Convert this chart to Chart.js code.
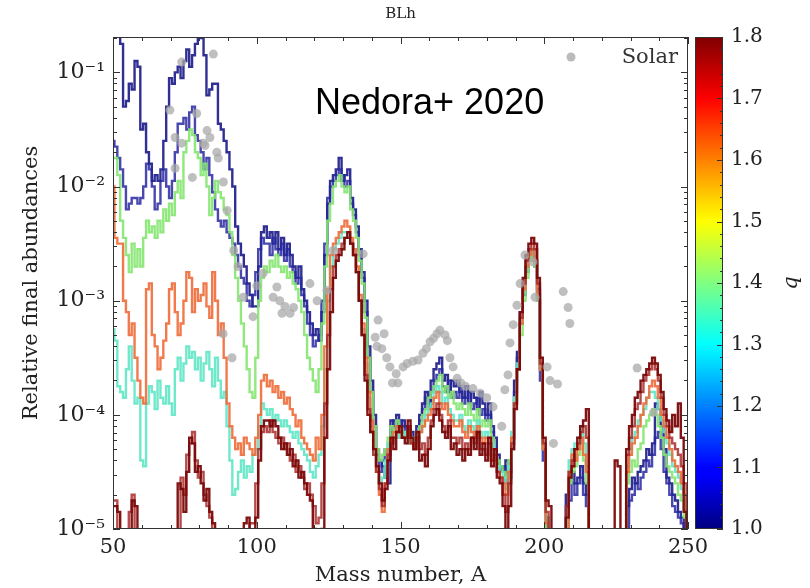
<!DOCTYPE html>
<html>
<head>
<meta charset="utf-8">
<script src="https://cdn.jsdelivr.net/npm/chart.js@4.4.1/dist/chart.umd.min.js"></script>
<style>
  html, body { margin: 0; padding: 0; background: #ffffff; }
  #wrap { width: 810px; height: 588px; position: relative; }
</style>
</head>
<body>
<div id="wrap"><canvas id="c" width="810" height="588"></canvas></div>
<script>
// Mass numbers A = 50 ... 250 (one histogram bin per A)
const massNumbers = Array.from({ length: 201 }, (_, i) => 50 + i);

// Final abundances per mass number, stored as log10(Y); -6 means below the plotted range
const navyHighLog = [
  -0.6,-0.6,-0.65,-0.75,-1.3,-1.25,-1.1,-1.15,-0.9,-0.95,
  -1.5,-1.45,-1.7,-1.8,-1.95,-1.9,-1.95,-1.85,-1.6,-1.3,
  -1.05,-1.1,-1.0,-0.95,-1.05,-0.9,-0.8,-0.95,-0.85,-0.75,
  -0.68,-0.7,-0.85,-1.2,-1.15,-1.1,-1.1,-1.45,-1.5,-1.6,
  -1.7,-1.85,-2.0,-2.35,-2.5,-2.6,-2.7,-2.85,-2.95,-3.05,
  -3.05,-2.7,-2.4,-2.35,-2.45,-2.4,-2.5,-2.4,-2.55,-2.45,
  -2.6,-2.5,-2.6,-2.7,-2.8,-2.7,-2.9,-3.0,-3.1,-3.2,
  -3.3,-3.25,-3.35,-3.1,-2.6,-2.15,-1.95,-1.9,-1.85,-1.75,
  -1.95,-1.9,-1.85,-2.1,-2.2,-2.35,-2.55,-2.75,-3.0,-3.4,
  -3.7,-4.0,-4.3,-4.4,-4.45,-4.55,-4.6,-4.05,-4.1,-4.0,
  -4.15,-4.05,-4.1,-4.2,-4.15,-4.25,-4.1,-4.0,-3.9,-3.8,
  -3.95,-3.7,-3.6,-3.55,-3.5,-3.7,-3.65,-3.8,-3.7,-3.75,
  -3.7,-3.8,-3.85,-3.75,-3.9,-3.8,-3.85,-3.95,-3.8,-3.9,
  -4.0,-3.9,-4.1,-4.2,-4.35,-4.45,-4.5,-4.4,-4.55,-4.2,
  -3.7,-3.45,-3.1,-2.85,-2.7,-2.6,-2.55,-2.65,-2.9,-3.6,
  -4.3,-4.9,-6,-6,-6,-6,-6,-6,-4.7,-4.6,
  -4.5,-4.6,-4.55,-4.45,-4.6,-4.7,-6,-6,-6,-6,
  -6,-6,-6,-6,-6,-6,-6,-6,-6,-4.8,
  -4.65,-4.55,-4.6,-4.5,-4.45,-4.4,-4.3,-4.35,-4.25,-3.9,
  -3.95,-4.1,-4.3,-4.55,-4.6,-4.7,-4.75,-4.85,-4.9,-5.0,
  -6
];
const navyLowLog = [
  -1.6,-1.65,-1.75,-1.85,-2.0,-2.2,-2.15,-2.1,-2.1,-2.15,
  -2.1,-2.0,-1.8,-1.85,-2.0,-2.2,-2.15,-1.95,-1.85,-2.0,
  -2.1,-1.95,-1.7,-1.45,-1.45,-1.4,-1.5,-1.35,-1.3,-1.55,
  -1.6,-1.7,-1.85,-1.75,-1.9,-2.05,-2.2,-2.3,-2.35,-2.3,
  -2.4,-2.45,-2.5,-2.6,-2.7,-2.8,-2.85,-3.0,-3.05,-2.95,
  -2.75,-2.55,-2.45,-2.5,-2.5,-2.6,-2.45,-2.55,-2.6,-2.5,
  -2.65,-2.55,-2.7,-2.75,-2.85,-2.8,-2.95,-3.05,-3.2,-3.3,
  -3.4,-3.35,-3.3,-3.0,-2.5,-2.1,-2.0,-1.95,-1.9,-1.85,
  -1.9,-2.0,-1.95,-2.15,-2.25,-2.4,-2.6,-2.8,-3.1,-3.5,
  -3.8,-4.1,-4.35,-4.5,-4.4,-4.3,-4.35,-4.15,-4.05,-4.1,
  -4.05,-4.1,-4.15,-4.1,-4.2,-4.2,-4.15,-4.05,-3.95,-3.85,
  -3.9,-3.8,-3.7,-3.65,-3.6,-3.75,-3.8,-3.7,-3.85,-3.8,
  -3.85,-3.75,-3.9,-3.85,-3.8,-3.95,-3.9,-3.85,-4.0,-3.95,
  -4.05,-4.0,-4.15,-4.3,-4.4,-4.5,-4.45,-4.6,-4.5,-4.3,
  -3.8,-3.5,-3.2,-2.95,-2.75,-2.65,-2.6,-2.7,-3.0,-3.7,
  -4.4,-5.0,-6,-6,-6,-6,-6,-6,-6,-4.75,
  -4.6,-4.7,-4.6,-4.55,-4.7,-4.8,-6,-6,-6,-6,
  -6,-6,-6,-6,-6,-6,-6,-6,-6,-6,
  -4.75,-4.7,-4.6,-4.65,-4.55,-4.5,-4.4,-4.45,-4.35,-4.2,
  -4.15,-4.3,-4.5,-4.6,-4.7,-4.8,-4.85,-4.9,-4.95,-5.1,
  -6
];
const greenLog = [
  -1.75,-1.75,-1.9,-2.3,-2.45,-2.6,-2.75,-2.5,-2.7,-2.55,
  -2.7,-2.45,-2.3,-2.4,-2.35,-2.45,-2.3,-2.4,-2.2,-2.3,
  -2.15,-2.25,-2.05,-1.95,-2.1,-1.7,-1.6,-1.5,-1.55,-1.7,
  -1.75,-1.9,-1.8,-2.0,-2.25,-2.1,-1.95,-2.05,-2.1,-2.2,
  -2.25,-2.4,-2.6,-2.8,-3.0,-3.2,-3.4,-3.6,-3.8,-3.85,
  -3.5,-3.0,-2.8,-2.7,-2.75,-2.65,-2.7,-2.6,-2.7,-2.75,
  -2.7,-2.8,-2.75,-2.85,-2.9,-3.0,-3.1,-3.3,-3.5,-3.6,
  -3.7,-3.8,-3.6,-3.2,-2.7,-2.3,-2.15,-2.0,-1.95,-1.9,
  -2.0,-2.05,-2.0,-2.2,-2.3,-2.45,-2.65,-2.85,-3.15,-3.5,
  -3.8,-4.1,-4.3,-4.4,-4.35,-4.3,-4.2,-4.1,-4.15,-4.05,
  -4.1,-4.15,-4.2,-4.15,-4.25,-4.2,-4.15,-4.1,-4.0,-3.95,
  -3.85,-3.8,-3.75,-3.7,-3.65,-3.8,-3.75,-3.85,-3.8,-3.9,
  -3.95,-3.9,-3.95,-4.0,-3.9,-4.0,-4.05,-3.95,-4.1,-4.05,
  -4.1,-4.05,-4.2,-4.35,-4.4,-4.45,-4.5,-4.55,-4.4,-4.2,
  -3.85,-3.6,-3.3,-3.0,-2.8,-2.65,-2.6,-2.7,-3.0,-3.6,
  -4.3,-5.0,-6,-6,-6,-6,-6,-6,-6,-4.6,
  -4.5,-4.45,-4.35,-4.2,-4.4,-4.6,-6,-6,-6,-6,
  -6,-6,-6,-6,-6,-6,-6,-6,-6,-4.6,
  -4.5,-4.4,-4.45,-4.3,-4.25,-4.1,-4.05,-4.0,-3.95,-4.0,
  -4.1,-4.2,-4.35,-4.45,-4.5,-4.55,-4.6,-4.7,-4.75,-4.9,
  -6
];
const tealLog = [
  -3.25,-3.35,-3.75,-3.8,-3.85,-3.6,-3.4,-3.7,-3.9,-3.85,
  -4.4,-4.45,-3.9,-3.75,-3.8,-3.95,-3.7,-3.85,-3.9,-3.75,
  -3.9,-4.0,-3.6,-3.5,-3.7,-3.55,-3.4,-3.5,-3.45,-3.6,
  -3.5,-3.7,-3.55,-3.45,-3.6,-3.75,-3.5,-3.7,-3.85,-3.8,
  -4.1,-4.4,-4.7,-4.65,-4.5,-4.4,-4.55,-4.45,-4.5,-4.35,
  -4.3,-4.1,-3.9,-3.95,-4.0,-3.95,-4.05,-4.0,-4.05,-4.1,
  -4.05,-4.1,-4.15,-4.2,-4.15,-4.25,-4.3,-4.35,-4.4,-4.5,
  -4.55,-4.45,-4.35,-4.1,-3.6,-3.0,-2.7,-2.55,-2.5,-2.45,
  -2.4,-2.4,-2.45,-2.5,-2.6,-2.75,-3.0,-3.25,-3.55,-3.85,
  -4.1,-4.35,-4.5,-4.6,-4.55,-4.4,-4.25,-4.2,-4.15,-4.1,
  -4.2,-4.15,-4.2,-4.25,-4.2,-4.3,-4.25,-4.15,-4.1,-4.0,
  -3.95,-3.9,-3.8,-3.75,-3.8,-3.9,-3.85,-3.95,-4.0,-4.05,
  -4.05,-4.0,-4.1,-4.15,-4.05,-4.1,-4.15,-4.05,-4.15,-4.2,
  -4.15,-4.2,-4.25,-4.35,-4.45,-4.5,-4.55,-4.65,-4.45,-4.15,
  -3.85,-3.55,-3.2,-2.9,-2.7,-2.6,-2.55,-2.65,-2.95,-3.6,
  -4.3,-4.9,-6,-6,-6,-6,-6,-6,-6,-4.4,
  -4.3,-4.25,-4.2,-4.1,-4.25,-4.45,-6,-6,-6,-6,
  -6,-6,-6,-6,-6,-6,-6,-6,-6,-4.45,
  -4.3,-4.2,-4.15,-4.05,-4.0,-3.95,-3.85,-3.8,-3.8,-3.85,
  -3.95,-4.05,-4.15,-4.25,-4.35,-4.45,-4.5,-4.55,-4.65,-4.75,
  -6
];
const orangeLog = [
  -2.0,-2.45,-2.5,-2.5,-3.0,-3.1,-3.3,-3.2,-3.5,-3.7,
  -3.85,-3.9,-2.9,-2.85,-3.3,-3.4,-3.6,-3.5,-3.35,-3.2,
  -2.9,-2.85,-3.1,-3.3,-3.2,-3.0,-2.75,-2.8,-3.1,-2.9,
  -3.0,-2.95,-2.85,-3.05,-3.15,-2.75,-3.0,-3.3,-3.2,-3.5,
  -3.9,-4.1,-4.2,-4.3,-4.25,-4.35,-4.2,-4.25,-4.3,-4.35,
  -4.2,-4.0,-3.7,-3.65,-3.75,-3.7,-3.8,-3.75,-3.85,-3.8,
  -3.9,-3.85,-3.95,-4.0,-4.1,-4.05,-4.2,-4.25,-4.3,-4.35,
  -4.4,-4.2,-4.3,-4.0,-3.4,-2.9,-2.6,-2.5,-2.45,-2.4,
  -2.35,-2.3,-2.35,-2.45,-2.55,-2.7,-2.95,-3.2,-3.5,-3.8,
  -4.05,-4.3,-4.5,-4.7,-4.85,-4.6,-4.3,-4.2,-4.15,-4.1,
  -4.15,-4.2,-4.2,-4.15,-4.25,-4.3,-4.2,-4.15,-4.1,-4.05,
  -4.0,-3.95,-3.85,-3.8,-3.9,-3.95,-3.9,-4.0,-4.05,-4.1,
  -4.1,-4.05,-4.15,-4.2,-4.1,-4.15,-4.2,-4.1,-4.2,-4.25,
  -4.2,-4.25,-4.3,-4.4,-4.5,-4.55,-4.6,-4.7,-4.5,-4.2,
  -3.9,-3.6,-3.2,-2.9,-2.7,-2.6,-2.55,-2.65,-2.95,-3.6,
  -4.3,-4.95,-6,-6,-6,-6,-6,-6,-6,-4.5,
  -4.35,-4.4,-4.3,-4.2,-4.35,-4.5,-6,-6,-6,-6,
  -6,-6,-6,-6,-6,-6,-6,-6,-6,-4.5,
  -4.35,-4.25,-4.2,-4.1,-4.0,-3.9,-3.85,-3.75,-3.7,-3.75,
  -3.85,-4.0,-4.1,-4.2,-4.3,-4.4,-4.45,-4.5,-4.6,-4.7,
  -6
];
const brownLog = [
  -4.75,-4.75,-6,-6,-6,-6,-4.85,-4.7,-6,-6,
  -6,-6,-6,-6,-6,-6,-6,-6,-6,-6,
  -6,-6,-6,-6,-4.55,-4.7,-4.35,-4.25,-4.15,-4.4,
  -4.55,-4.5,-4.7,-4.8,-4.9,-6,-6,-6,-6,-6,
  -6,-6,-6,-6,-6,-6,-6,-6,-4.95,-4.95,
  -4.6,-4.3,-4.15,-4.1,-4.15,-4.05,-4.15,-4.2,-4.25,-4.2,
  -4.3,-4.25,-4.4,-4.35,-4.5,-4.45,-4.55,-4.65,-4.6,-4.7,
  -4.8,-4.95,-4.9,-4.6,-3.9,-3.3,-2.9,-2.7,-2.6,-2.55,
  -2.5,-2.45,-2.45,-2.5,-2.6,-2.75,-3.0,-3.3,-3.65,-3.95,
  -4.15,-4.35,-4.5,-4.65,-4.8,-4.6,-4.35,-4.25,-4.2,-4.15,
  -4.15,-4.2,-4.2,-4.1,-4.25,-4.3,-4.2,-4.3,-4.25,-4.35,
  -4.2,-4.05,-3.95,-3.9,-4.0,-4.1,-4.15,-4.05,-4.2,-4.2,
  -4.25,-4.2,-4.3,-4.25,-4.3,-4.2,-4.25,-4.15,-4.3,-4.3,
  -4.35,-4.25,-4.4,-4.35,-4.5,-4.55,-4.7,-4.85,-4.6,-4.25,
  -3.9,-3.6,-3.15,-2.85,-2.65,-2.55,-2.5,-2.55,-2.85,-3.55,
  -4.25,-4.85,-6,-6,-6,-6,-6,-6,-4.8,-4.5,
  -4.4,-4.3,-4.25,-4.15,-4.1,-4.2,-6,-6,-6,-6,
  -6,-6,-6,-6,-6,-6,-6,-6,-6,-4.35,
  -4.2,-4.1,-3.95,-3.9,-3.8,-3.7,-3.65,-3.6,-3.55,-3.6,
  -3.7,-3.85,-4.0,-4.1,-4.2,-4.25,-4.3,-4.35,-4.45,-4.6,
  -6
];
const darkRedLog = [
  -4.8,-4.8,-4.85,-6,-6,-6,-6,-4.75,-4.8,-6,
  -6,-6,-6,-6,-6,-6,-6,-6,-6,-6,
  -6,-6,-6,-4.6,-4.65,-4.85,-4.5,-4.2,-4.25,-4.5,
  -4.45,-4.6,-4.75,-4.65,-4.85,-4.95,-6,-6,-6,-6,
  -6,-6,-6,-6,-6,-6,-4.95,-4.9,-6,-6,
  -4.9,-4.4,-4.1,-4.05,-4.05,-4.1,-4.05,-4.1,-4.2,-4.3,
  -4.25,-4.35,-4.3,-4.45,-4.4,-4.55,-4.5,-4.6,-4.7,-4.75,
  -5.0,-6,-6,-5.0,-4.2,-3.6,-3.1,-2.8,-2.65,-2.6,
  -2.55,-2.45,-2.4,-2.5,-2.6,-2.75,-3.0,-3.3,-3.7,-4.0,
  -4.15,-4.3,-4.45,-4.6,-4.75,-4.65,-4.4,-4.2,-4.3,-4.15,
  -4.1,-4.2,-4.25,-4.05,-4.2,-4.3,-4.15,-4.4,-4.35,-4.45,
  -4.3,-4.1,-4.0,-3.95,-4.05,-4.15,-4.2,-4.1,-4.3,-4.25,
  -4.35,-4.3,-4.4,-4.3,-4.35,-4.2,-4.3,-4.15,-4.35,-4.25,
  -4.4,-4.2,-4.45,-4.3,-4.55,-4.6,-4.8,-5.0,-4.8,-4.3,
  -3.95,-3.6,-3.1,-2.8,-2.6,-2.5,-2.45,-2.5,-2.8,-3.5,
  -4.2,-4.75,-4.8,-6,-6,-6,-6,-6,-4.9,-4.55,
  -4.45,-4.3,-4.2,-4.1,-4.05,-3.95,-6,-6,-6,-6,
  -6,-6,-6,-6,-6,-4.4,-4.45,-6,-6,-4.3,
  -4.1,-4.0,-3.85,-3.8,-3.7,-3.65,-3.6,-3.55,-3.5,-3.55,
  -3.65,-3.8,-3.95,-4.05,-4.15,-4.0,-4.1,-3.9,-4.2,-4.85,
  -6
];

// Solar r-process pattern (mass number, log10 abundance)
const solarMass = [
  69.8,71.6,71.6,73.9,73.9,77.6,79.1,81.4,82.0,82.7,83.7,84.9,86.1,86.6,88.4,89.7,
  88.3,91.4,92.0,93.5,95.3,98.7,100.0,102.2,105.7,107.0,108.0,108.8,109.8,111.6,112.8,118.5,121.0,124.4,126.6,
  137.0,
  141.2,141.8,142.2,143.5,144.3,145.2,146.3,147.2,148.5,149.1,150.9,152.3,154.3,156.1,157.8,159.0,160.3,161.5,162.7,163.7,165.5,166.3,167.2,168.3,169.7,171.0,172.6,175.2,177.7,180.0,182.2,
  185.2,186.3,187.4,188.1,189.2,190.5,191.6,193.3,196.1,196.8,
  201.0,202.0,203.2,204.6,206.6,208.3,208.9,232.3,238.0
];
const solarLog = [
  -1.33,-1.57,-1.84,-0.91,-1.62,-1.92,-1.36,-1.62,-1.64,-1.51,-1.57,-0.84,-1.70,-1.75,-1.96,-2.21,
  -3.29,-3.5,-2.56,-2.7,-2.97,-3.14,-2.87,-2.76,-2.97,-2.88,-3.0,-3.11,-3.05,-3.11,-3.06,-2.85,-3.0,-2.91,-2.56,
  -2.59,
  -3.32,-3.4,-3.17,-3.42,-3.29,-3.5,-3.58,-3.72,-3.64,-3.72,-3.58,-3.55,-3.53,-3.52,-3.46,-3.42,-3.36,-3.33,-3.29,-3.26,-3.3,-3.35,-3.5,-3.58,-3.68,-3.72,-3.75,-3.77,-3.81,-3.85,-3.93,
  -4.1,-3.78,-3.65,-3.37,-3.21,-3.04,-2.85,-2.6,-2.66,-2.97,
  -3.58,-3.7,-4.25,-3.73,-2.92,-3.06,-3.2,-3.59,-3.98
];

// Axis ticks and labels
const xTickValues = [50, 100, 150, 200, 250];
const yTickValues = [1e-5, 1e-4, 1e-3, 1e-2, 1e-1];
const yTickLabels = ['10\u207B\u2075', '10\u207B\u2074', '10\u207B\u00B3', '10\u207B\u00B2', '10\u207B\u00B9'];
const qTickValues = [1.0, 1.1, 1.2, 1.3, 1.4, 1.5, 1.6, 1.7, 1.8];

const SERIF = '"DejaVu Serif", "Liberation Serif", serif';
const INK = '#222222';

const toPoints = (logs) => logs.map((L, i) => ({ x: massNumbers[i], y: Math.pow(10, L) }));

function stepSet(label, logs, color) {
  return {
    type: 'line', label, data: toPoints(logs), borderColor: color, backgroundColor: color,
    borderWidth: 2.4, pointRadius: 0, stepped: 'middle', fill: false, clip: 0,
    borderJoinStyle: 'miter', yAxisID: 'y'
  };
}

// Jet colour map stops for the q colour bar
const jetStops = [
  [0.0, '#00007f'], [0.11, '#0000ff'], [0.125, '#0000ff'], [0.34, '#00ddff'], [0.375, '#00ffff'],
  [0.5, '#80ff80'], [0.625, '#ffff00'], [0.66, '#ffdd00'], [0.875, '#ff0000'], [0.89, '#ee0000'], [1.0, '#7f0000']
];

const decorations = {
  id: 'decorations',
  afterDraw(chart) {
    const { ctx, chartArea: a, scales } = chart;
    const x = scales.x, y = scales.y, q = scales.q;
    ctx.save();

    // frame
    ctx.strokeStyle = '#333';
    ctx.lineWidth = 1;
    ctx.strokeRect(Math.round(a.left) + 0.5, Math.round(a.top) + 0.5,
                   Math.round(a.width) - 1, Math.round(a.height) - 1);

    const seg = (x1, y1, x2, y2) => { ctx.beginPath(); ctx.moveTo(x1, y1); ctx.lineTo(x2, y2); ctx.stroke(); };

    // inward ticks on x (major every 50, minor every 10)
    for (let v = x.min; v <= x.max; v += 10) {
      const px = Math.round(x.getPixelForValue(v)) + 0.5;
      const len = xTickValues.includes(v) ? 7 : 4;
      seg(px, a.bottom, px, a.bottom - len);
      seg(px, a.top, px, a.top + len);
    }
    // inward ticks on the log y axis
    for (const dec of yTickValues) {
      for (let m = 1; m <= 9; m++) {
        const v = m * dec;
        if (v > y.max) break;
        const py = Math.round(y.getPixelForValue(v)) + 0.5;
        const len = m === 1 ? 7 : 4;
        seg(a.left, py, a.left + len, py);
        seg(a.right, py, a.right - len, py);
      }
    }

    // colour bar
    const cbL = q.left + 7, cbR = q.left + 35;
    const g = ctx.createLinearGradient(0, q.bottom, 0, q.top);
    jetStops.forEach(([t, c]) => g.addColorStop(t, c));
    ctx.fillStyle = g;
    ctx.fillRect(cbL, q.top, cbR - cbL, q.bottom - q.top);
    ctx.strokeStyle = '#333';
    ctx.strokeRect(cbL + 0.5, q.top + 0.5, cbR - cbL - 1, q.bottom - q.top - 1);
    for (let k = 0; k <= 40; k++) {
      const v = q.min + k * 0.02;
      const py = Math.round(q.getPixelForValue(v)) + 0.5;
      const len = k % 5 === 0 ? 6 : 3;
      seg(cbR, py, cbR - len, py);
    }

    // colour bar label
    ctx.fillStyle = INK;
    ctx.font = 'italic 21px ' + SERIF;
    ctx.textAlign = 'center';
    ctx.textBaseline = 'middle';
    ctx.save();
    ctx.translate(792, (q.top + q.bottom) / 2);
    ctx.rotate(-Math.PI / 2);
    ctx.fillText('q', 0, 0);
    ctx.restore();

    // panel title
    ctx.font = '15px ' + SERIF;
    ctx.fillText('BLh', (a.left + a.right) / 2, 14);

    // annotation
    ctx.font = '36px "Liberation Sans", Arial, sans-serif';
    ctx.textAlign = 'left';
    ctx.textBaseline = 'alphabetic';
    ctx.fillStyle = '#000';
    ctx.fillText('Nedora+ 2020', 315, 114);

    // legend for the solar pattern
    ctx.fillStyle = 'rgba(170,170,170,0.8)';
    ctx.beginPath();
    ctx.arc(571, 57, 4.5, 0, Math.PI * 2);
    ctx.fill();
    ctx.fillStyle = '#333';
    ctx.font = '21px ' + SERIF;
    ctx.textAlign = 'right';
    ctx.textBaseline = 'middle';
    ctx.fillText('Solar', 678, 58);

    ctx.restore();
  }
};

const solarSet = {
  type: 'scatter', label: 'Solar',
  data: solarMass.map((m, i) => ({ x: m, y: Math.pow(10, solarLog[i]) })),
  pointRadius: 4.5, pointBorderWidth: 0,
  backgroundColor: 'rgba(170,170,170,0.75)', borderColor: 'rgba(170,170,170,0.75)',
  showLine: false, yAxisID: 'y', clip: 0
};

new Chart(document.getElementById('c'), {
  type: 'line',
  data: {
    datasets: [
      solarSet,
      stepSet('q = 1.80', darkRedLog, 'rgba(122,8,8,0.95)'),
      stepSet('q = 1.75', brownLog, 'rgba(168,44,44,0.85)'),
      stepSet('q = 1.65', orangeLog, 'rgba(240,108,58,0.9)'),
      stepSet('q = 1.35', tealLog, 'rgba(96,230,198,0.9)'),
      stepSet('q = 1.45', greenLog, 'rgba(132,230,112,0.9)'),
      stepSet('q = 1.00 (b)', navyLowLog, 'rgba(40,40,160,0.85)'),
      stepSet('q = 1.00', navyHighLog, 'rgba(26,26,136,0.9)')
    ]
  },
  options: {
    responsive: false,
    animation: false,
    devicePixelRatio: 1,
    events: [],
    layout: { padding: { top: 37, left: 0, right: 0, bottom: 0 } },
    plugins: { legend: { display: false }, tooltip: { enabled: false }, title: { display: false } },
    scales: {
      x: {
        type: 'linear', min: 50, max: 250,
        afterBuildTicks: (s) => { s.ticks = xTickValues.map(v => ({ value: v })); },
        ticks: { font: { family: SERIF, size: 21 }, color: INK, padding: 6, maxRotation: 0, autoSkip: false,
                 callback: (v) => String(v) },
        grid: { display: false, drawTicks: false },
        border: { display: false },
        title: { display: true, text: 'Mass number, A', font: { family: SERIF, size: 21 }, color: INK,
                 padding: { top: 0, bottom: 0 } },
        afterFit: (s) => { s.height = 59; }
      },
      y: {
        type: 'logarithmic', position: 'left', min: 1e-5, max: Math.pow(10, -0.69),
        afterBuildTicks: (s) => { s.ticks = yTickValues.map(v => ({ value: v })); },
        ticks: { font: { family: SERIF, size: 22 }, color: INK, padding: 8, autoSkip: false,
                 callback: (v, i) => yTickLabels[i] },
        grid: { display: false, drawTicks: false },
        border: { display: false },
        title: { display: true, text: 'Relative final abundances', font: { family: SERIF, size: 21 }, color: INK,
                 padding: { top: 19, bottom: 0 } },
        afterFit: (s) => { s.width = 113; }
      },
      q: {
        type: 'linear', position: 'right', min: 1.0, max: 1.8,
        afterBuildTicks: (s) => { s.ticks = qTickValues.map(v => ({ value: v })); },
        ticks: { font: { family: SERIF, size: 20 }, color: INK, padding: 4, autoSkip: false,
                 callback: (v) => Number(v).toFixed(1) },
        // the tick-mark length reserves room for the colour bar between the plot and the labels
        grid: { display: false, drawTicks: true, tickLength: 39 },
        border: { display: false },
        afterFit: (s) => { s.width = 122; }
      }
    }
  },
  plugins: [decorations]
});
</script>
</body>
</html>
